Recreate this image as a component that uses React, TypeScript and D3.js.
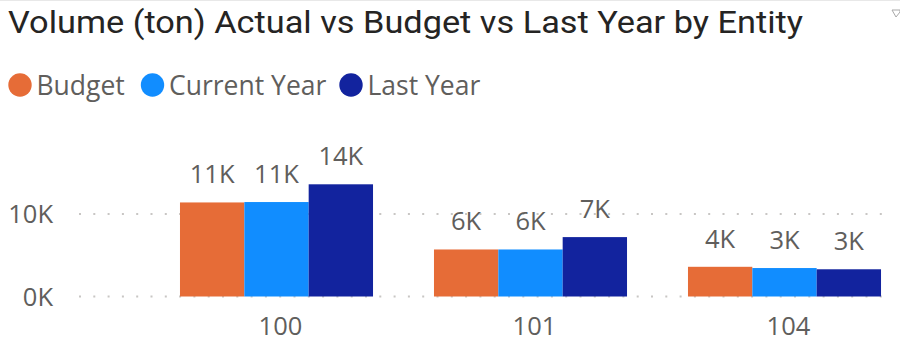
import React from "react";
import * as d3 from "d3";

const title = "Volume (ton) Actual vs Budget vs Last Year by Entity";
const entities = ["100", "101", "104"];
const seriesNames = ["Budget", "Current Year", "Last Year"];
const seriesColors = ["#E66C37", "#118DFF", "#12239E"];
const budget = [11400, 5700, 3600];
const currentYear = [11450, 5700, 3450];
const lastYear = [13600, 7200, 3300];
const yTicks = [0, 10000];

const W = 900;
const H = 350;
const FONT = "'Open Sans', 'Noto Sans', sans-serif";
const TEXT_GRAY = "#605E5C";

export default function App() {
  const values = [budget, currentYear, lastYear];
  const x0 = d3.scaleBand<string>().domain(entities).range([149.5, 911.5]).paddingInner(0.24).paddingOuter(0.12);
  const x1 = d3.scaleBand<string>().domain(seriesNames).range([0, x0.bandwidth()]).padding(0);
  const y = d3.scaleLinear().domain([0, 10000]).range([296.5, 214]);
  const fmtK = (v: number) => `${Math.round(v / 1000)}K`;

  return (
    <svg width={W} height={H} style={{ position: "absolute", left: 0, top: 0, background: "#fff" }}>
      <line x1={0} x2={W} y1={0.5} y2={0.5} stroke="#E8E8E8" />
      <text x={8} y={33} fontFamily="Roboto, 'DejaVu Sans', sans-serif" fontSize={30.5} fill="#252423" textLength={795} lengthAdjust="spacingAndGlyphs">{title}</text>
      <path d="M892,10 L900,10 L900,12 L896,17 L892,10 Z" fill="none" stroke="#A8A8A8" strokeWidth={1} />

      {seriesNames.map((s, i) => {
        const cx = [20, 152.5, 351][i];
        return (
          <g key={s}>
            <circle cx={cx} cy={85} r={11.7} fill={seriesColors[i]} />
            <text x={cx + 16.5} y={94.5} fontFamily={FONT} fontSize={26.5} fill={TEXT_GRAY}>{s}</text>
          </g>
        );
      })}

      {yTicks.map((t) => (
        <g key={t}>
          <line x1={79} x2={890} y1={y(t)} y2={y(t)} stroke="#C8C6C4" strokeWidth={2} strokeDasharray="2,12.3" />
          <text x={53} y={y(t) + 9} textAnchor="end" fontFamily={FONT} fontSize={25.5} fill={TEXT_GRAY}>{fmtK(t)}</text>
        </g>
      ))}

      {entities.map((e, gi) => (
        <g key={e} transform={`translate(${x0(e)},0)`}>
          {seriesNames.map((s, si) => {
            const v = values[si][gi];
            const bx = x1(s)!;
            const bw = x1.bandwidth();
            return (
              <g key={s}>
                <rect x={bx} y={y(v)} width={bw} height={y(0) - y(v)} fill={seriesColors[si]} />
                <text x={bx + bw / 2} y={y(v) - 19} textAnchor="middle" fontFamily={FONT} fontSize={25.5} fill={TEXT_GRAY}>{fmtK(v)}</text>
              </g>
            );
          })}
          <text x={x0.bandwidth() / 2 + 4} y={335} textAnchor="middle" fontFamily={FONT} fontSize={25.5} fill={TEXT_GRAY}>{e}</text>
        </g>
      ))}
    </svg>
  );
}
